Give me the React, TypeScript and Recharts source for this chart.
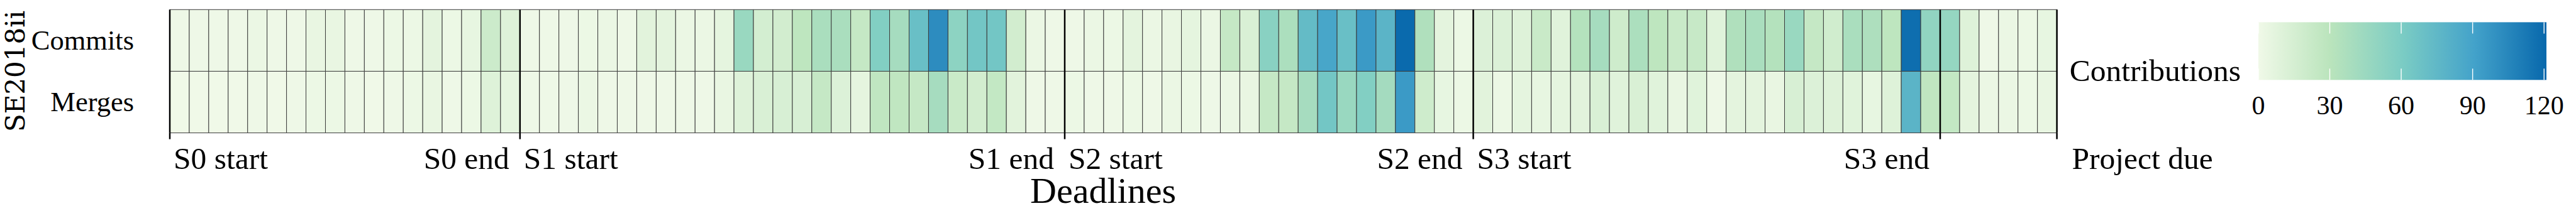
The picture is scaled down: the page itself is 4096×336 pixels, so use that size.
import React from 'react';
import { BarChart, Bar, Cell, XAxis, YAxis, ReferenceLine } from 'recharts';

// ---------- data ----------
const DAY_INDEX: number[] = Array.from({ length: 97 }, (_, i) => i);

const COMMITS: number[] = [
  1, 1, 1, 1, 3, 1, 1, 4, 4, 1, 1, 2, 2, 7,
  2, 5, 20, 10,
  1, 1, 1, 2, 3, 1, 8, 7, 3, 3,
  6, 46, 16, 17, 28, 38, 38, 24, 57, 40, 70, 102, 52, 65,
  65, 17, 3, 1, 1, 3, 2, 7, 3, 4, 6, 3, 24, 13,
  54, 37, 73, 88, 70, 95, 78, 120, 35, 7, 2, 11, 12, 10,
  22, 9, 33, 40, 19, 37, 28, 22, 23, 9, 35, 38, 33, 46,
  24, 18, 38, 36, 28, 118, 50, 48, 10, 1, 3, 2, 5,
];

const MERGES: number[] = [
  0, 0, 0, 0, 1, 0, 1, 2, 2, 1, 0, 1, 2, 4,
  1, 2, 10, 6,
  1, 1, 1, 3, 1, 1, 1, 1, 1, 1,
  4, 10, 13, 14, 14, 24, 11, 6, 27, 27, 24, 40, 22, 17,
  25, 8, 1, 1, 2, 1, 1, 2, 1, 3, 2, 1, 3, 4,
  24, 24, 40, 65, 46, 57, 41, 95, 19, 5, 2, 8, 2, 6,
  5, 6, 8, 13, 9, 13, 9, 4, 9, 1, 7, 7, 4, 14,
  11, 10, 9, 5, 10, 78, 27, 25, 7, 3, 3, 2, 4,
];

const ROW_LABELS: string[] = ['Merges', 'Commits'];
const ROW_TICKS: number[] = [0.5, 1.5];
const GROUP_LABEL = 'SE2018ii';

// deadline boundaries, in days from the start (97 = after the last day)
const DEADLINE_DAYS: number[] = [0, 18, 46, 67, 91, 97];
const START_LABELS: string[] = ['S0 start', 'S1 start', 'S2 start', 'S3 start', '', 'Project due'];
const END_LABELS: string[] = ['', 'S0 end', 'S1 end', 'S2 end', 'S3 end', ''];
const X_TITLE = 'Deadlines';

const COLORBAR_TITLE = 'Contributions';
const COLORBAR_TICKS: number[] = [0, 30, 60, 90, 120];
const COLOR_MAX = 121;
const PALETTE: string[] = ['#f0f9e8', '#bae4bc', '#7bccc4', '#43a2ca', '#0868ac'];

// ---------- helpers ----------
const SERIF = '"Liberation Serif", "Times New Roman", serif';
const LAST_DAY = DAY_INDEX[DAY_INDEX.length - 1];
// each boundary sits on the left edge of a day cell, or on the right edge of the last one
const TICK_DAYS = DEADLINE_DAYS.map((b) => Math.min(b, LAST_DAY));
const tickSide = (b: number) => (b > LAST_DAY ? 'end' : 'start');

function hexToRgb(h: string): number[] {
  const n = parseInt(h.slice(1), 16);
  return [(n >> 16) & 255, (n >> 8) & 255, n & 255];
}

function colorFor(v: number): string {
  const t = Math.max(0, Math.min(1, v / COLOR_MAX)) * (PALETTE.length - 1);
  const i = Math.min(Math.floor(t), PALETTE.length - 2);
  const f = t - i;
  const a = hexToRgb(PALETTE[i]);
  const b = hexToRgb(PALETTE[i + 1]);
  const c = a.map((av, k) => Math.round(av + (b[k] - av) * f));
  return `rgb(${c[0]},${c[1]},${c[2]})`;
}

const data = DAY_INDEX.map((d) => ({
  day: d,
  commits: COMMITS[d],
  merges: MERGES[d],
  mergesCell: 1,
  commitsCell: 1,
}));

// ---------- layout ----------
const W = 4096;
const H = 336;
const PLOT_LEFT = 270;
const PLOT_RIGHT_MARGIN = 825.4;
const TOP_MARGIN = 15.3;
const X_AXIS_H = 110;
const BOTTOM_MARGIN = 14.4;
const STUB = 10;
const LINE_W = 2.5;

const boundaryX = (props: any) => {
  const { x, payload } = props;
  const half = payload && payload.offset ? payload.offset : 0;
  const i = TICK_DAYS.indexOf(payload.value);
  const side = tickSide(DEADLINE_DAYS[i]);
  return { bx: side === 'end' ? x + half : x - half, i };
};

const DeadlineTick = (props: any) => {
  const { y } = props;
  const { bx, i } = boundaryX(props);
  if (i < 0) return null;
  const base = y + 57;
  const last = i === DEADLINE_DAYS.length - 1;
  return (
    <g>
      <line x1={bx} x2={bx} y1={y} y2={y + STUB} stroke="#000" strokeWidth={LINE_W} />
      {END_LABELS[i] ? (
        <text x={bx - 17} y={base} textAnchor="end" fontFamily={SERIF} fontSize={49.5} fill="#000">
          {END_LABELS[i]}
        </text>
      ) : null}
      {START_LABELS[i] ? (
        <text x={bx + (last ? 24 : 6)} y={base} textAnchor="start" fontFamily={SERIF} fontSize={49.5} fill="#000">
          {START_LABELS[i]}
        </text>
      ) : null}
    </g>
  );
};

const TopStub = (props: any) => {
  const { y } = props;
  const { bx, i } = boundaryX(props);
  if (i < 0) return null;
  return <line x1={bx} x2={bx} y1={y - STUB} y2={y} stroke="#000" strokeWidth={LINE_W} />;
};

const RowTick = (props: any) => {
  const { x, y, payload } = props;
  const label = ROW_LABELS[Math.floor(payload.value)];
  return (
    <text x={x} y={y + 14.7} textAnchor="end" fontFamily={SERIF} fontSize={44.5} fill="#000">
      {label}
    </text>
  );
};

const Overlay = () => {
  const x0 = 3590.9;
  const x1 = 4049;
  const y0 = 35.4;
  const y1 = 127.3;
  const tx = (v: number) => x0 + (v / COLOR_MAX) * (x1 - x0);
  const plotMidY = TOP_MARGIN + (H - TOP_MARGIN - BOTTOM_MARGIN - X_AXIS_H) / 2;
  const yTitleX = 39;
  return (
    <svg width={W} height={H} style={{ position: 'absolute', left: 0, top: 0, pointerEvents: 'none' }}>
      <defs>
        <linearGradient id="cbar" x1="0" y1="0" x2="1" y2="0">
          {PALETTE.map((c, i) => (
            <stop key={i} offset={`${(i / (PALETTE.length - 1)) * 100}%`} stopColor={c} />
          ))}
        </linearGradient>
      </defs>
      <text
        x={yTitleX}
        y={plotMidY}
        transform={`rotate(-90, ${yTitleX}, ${plotMidY})`}
        textAnchor="middle"
        fontFamily='"DejaVu Serif", serif'
        fontSize={42}
        fill="#000"
      >
        {GROUP_LABEL}
      </text>
      <text x={1754} y={323} textAnchor="middle" fontFamily={SERIF} fontSize={58} fill="#000">
        {X_TITLE}
      </text>
      <text x={3563} y={129.4} textAnchor="end" fontFamily={SERIF} fontSize={49.5} fill="#000">
        {COLORBAR_TITLE}
      </text>
      <rect x={x0} y={y0} width={x1 - x0} height={y1 - y0} fill="url(#cbar)" />
      {COLORBAR_TICKS.map((v) => (
        <g key={v}>
          <line x1={tx(v)} x2={tx(v)} y1={y0} y2={y0 + 18} stroke="#fff" strokeWidth={1.4} />
          <line x1={tx(v)} x2={tx(v)} y1={y1 - 18} y2={y1} stroke="#fff" strokeWidth={1.4} />
          <text x={tx(v)} y={181.7} textAnchor="middle" fontFamily={SERIF} fontSize={42} fill="#000">
            {v}
          </text>
        </g>
      ))}
    </svg>
  );
};

export default function App() {
  return (
    <div style={{ position: 'absolute', left: 0, top: 0, width: W, height: H, background: '#fff' }}>
      <BarChart
        width={W}
        height={H}
        data={data}
        margin={{ top: TOP_MARGIN, right: PLOT_RIGHT_MARGIN, bottom: BOTTOM_MARGIN, left: 0 }}
        barCategoryGap={0}
        barGap={0}
      >
        <XAxis
          dataKey="day"
          type="category"
          ticks={TICK_DAYS}
          interval={0}
          orientation="bottom"
          height={X_AXIS_H}
          axisLine={false}
          tickLine={false}
          tickSize={0}
          tickMargin={0}
          tick={<DeadlineTick />}
        />
        <XAxis
          xAxisId="top"
          dataKey="day"
          type="category"
          ticks={TICK_DAYS}
          interval={0}
          orientation="top"
          height={0}
          axisLine={false}
          tickLine={false}
          tickSize={0}
          tickMargin={0}
          tick={<TopStub />}
        />
        <YAxis
          type="number"
          domain={[0, 2]}
          ticks={ROW_TICKS}
          interval={0}
          width={PLOT_LEFT}
          axisLine={false}
          tickLine={false}
          tickSize={0}
          tickMargin={57}
          tick={<RowTick />}
        />
        <Bar dataKey="mergesCell" stackId="s" isAnimationActive={false}>
          {data.map((d) => (
            <Cell key={`m${d.day}`} fill={colorFor(d.merges)} stroke="#3a3a3a" strokeWidth={1} />
          ))}
        </Bar>
        <Bar dataKey="commitsCell" stackId="s" isAnimationActive={false}>
          {data.map((d) => (
            <Cell key={`c${d.day}`} fill={colorFor(d.commits)} stroke="#3a3a3a" strokeWidth={1} />
          ))}
        </Bar>
        {DEADLINE_DAYS.map((b, i) => (
          <ReferenceLine
            key={b}
            x={TICK_DAYS[i]}
            position={tickSide(b)}
            stroke="#000"
            strokeWidth={LINE_W}
          />
        ))}
      </BarChart>
      <Overlay />
    </div>
  );
}
